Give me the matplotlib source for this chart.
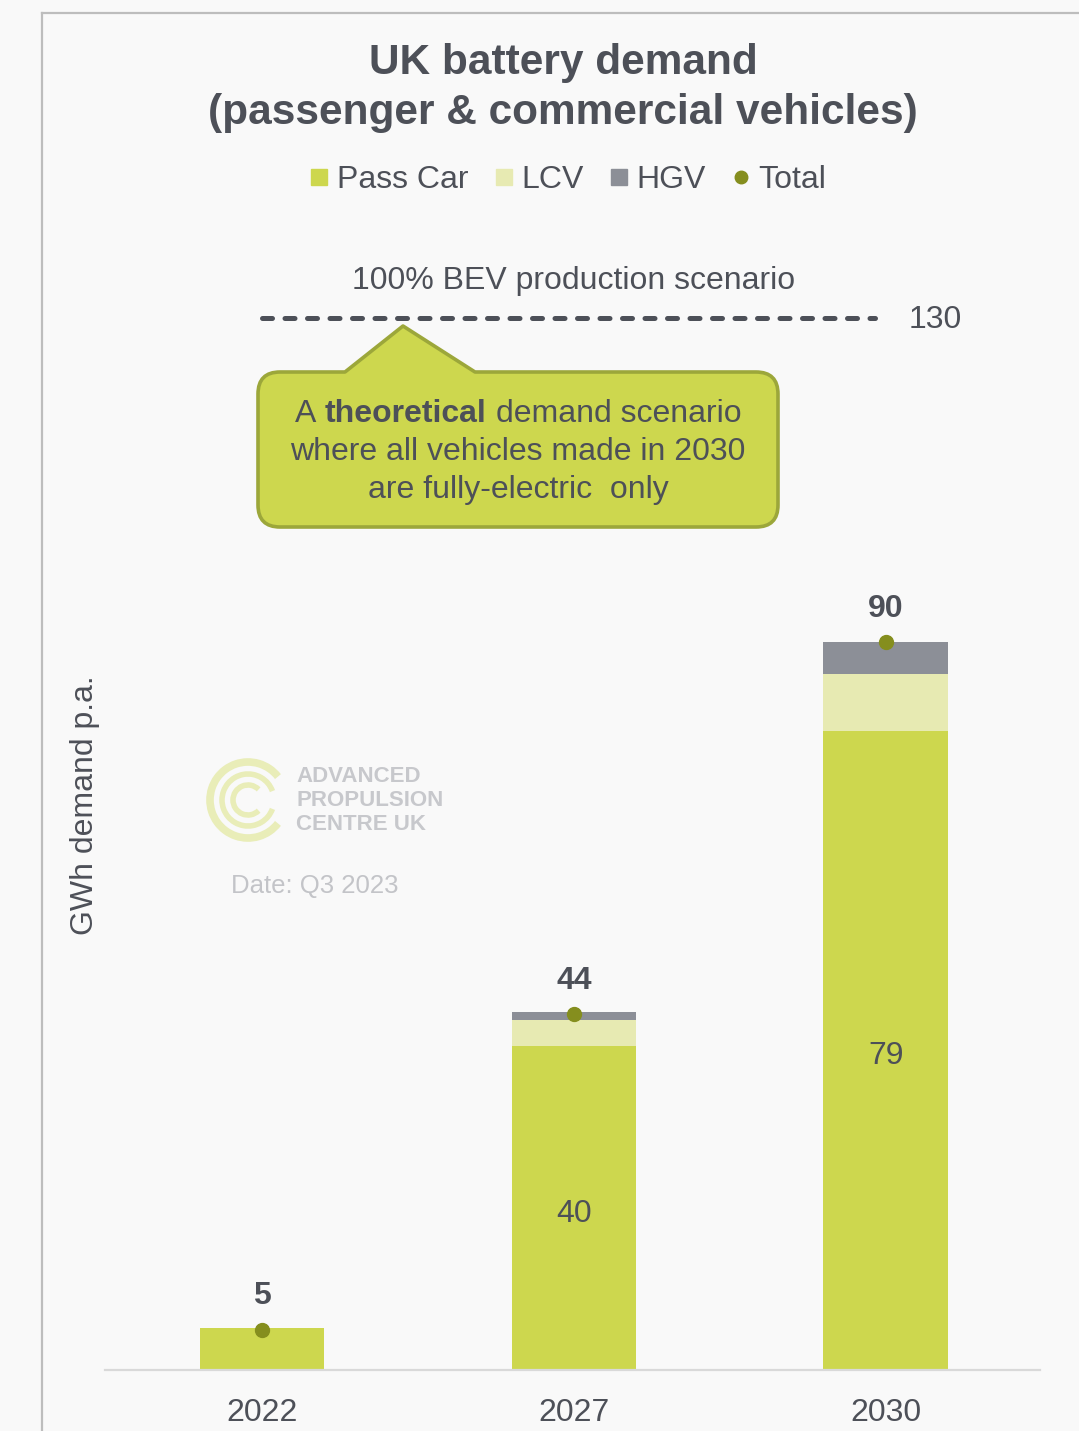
import matplotlib
matplotlib.use("Agg")
import matplotlib.pyplot as plt
from matplotlib.path import Path
from matplotlib.patches import PathPatch, Arc
from matplotlib.lines import Line2D
import numpy as np

# ---------------- data ----------------
years = ["2022", "2027", "2030"]
pass_car = [5.2, 40.0, 79.0]
lcv = [0.0, 3.3, 7.0]
hgv = [0.0, 0.9, 4.0]
totals = [5, 44, 90]
scenario_value = 130
scenario_label = "100% BEV production scenario"

# ---------------- style ----------------
C_PASS = "#CDD74E"
C_LCV = "#E7EAB2"
C_HGV = "#8C8F97"
C_TOT = "#858E1E"
C_TXT = "#4D5058"
C_BG = "#F9F9F9"
FONT = "Liberation Sans"
plt.rcParams["font.family"] = [FONT, "DejaVu Sans"]

W, H = 1079, 1431
fig = plt.figure(figsize=(W / 100, H / 100), dpi=100, facecolor=C_BG)

# overlay (pixel coordinates) for decorations
ov = fig.add_axes([0, 0, 1, 1], zorder=0)
ov.set_xlim(0, W)
ov.set_ylim(H, 0)
ov.axis("off")
ov.patch.set_alpha(0)

# main axes: baseline y=1370px, x 105..1040
px_per_unit = 728 / 90.0
y_base = 1370
ymax = 150
ax_top = y_base - ymax * px_per_unit
ax = fig.add_axes([105 / W, 1 - y_base / H, (1040 - 105) / W, (y_base - ax_top) / H], zorder=2)
ax.patch.set_alpha(0)
x = np.arange(len(years))
bw = 0.40
pc = np.array(pass_car)
lc = np.array(lcv)
hg = np.array(hgv)
ax.bar(x, pc, width=bw, color=C_PASS, zorder=2)
ax.bar(x, lc, width=bw, bottom=pc, color=C_LCV, zorder=2)
ax.bar(x, hg, width=bw, bottom=pc + lc, color=C_HGV, zorder=2)
ax.plot(x, totals, "o", color=C_TOT, markersize=10, zorder=3, linestyle="none")

for xi, v in zip(x, pass_car):
    if v > 10:
        ax.annotate(f"{v:.0f}", (xi, v / 2), xytext=(0, -4), textcoords="offset points",
                    ha="center", va="center", fontsize=23, color=C_TXT, zorder=4)
for xi, t in zip(x, totals):
    ax.annotate(f"{t}", (xi, t), xytext=(0, 24), textcoords="offset points",
                ha="center", va="center", fontsize=23, fontweight="bold", color=C_TXT)

# scenario dashed line
ax.hlines(scenario_value, 0.0, 1.965, colors=C_TXT, linewidth=3.6,
          linestyles=(0, (2.0, 2.5)), capstyle="round", zorder=3)
ax.annotate(f"{scenario_value}", (2.157, scenario_value), xytext=(0, -1), textcoords="offset points",
            ha="center", va="center", fontsize=23, color=C_TXT)
ax.annotate(scenario_label, (1.0, scenario_value), xytext=(0, 27), textcoords="offset points",
            ha="center", va="center", fontsize=23, color=C_TXT)

ax.set_xlim(-0.503, 2.494)
ax.set_ylim(0, ymax)
ax.set_xticks(x)
ax.set_xticklabels(years, fontsize=23, color=C_TXT)
ax.tick_params(axis="x", length=0, pad=20)
ax.set_yticks([])
for s in ["top", "right", "left"]:
    ax.spines[s].set_visible(False)
ax.spines["bottom"].set_color("#D9D9D9")
ax.spines["bottom"].set_linewidth(1.6)

# y label
ov.text(85, 805, "GWh demand p.a.", rotation=90, ha="center", va="center", fontsize=23, color=C_TXT)

# title
ov.text(563, 63, "UK battery demand", ha="center", va="center", fontsize=30.5, fontweight="bold", color=C_TXT)
ov.text(563, 113, "(passenger & commercial vehicles)", ha="center", va="center", fontsize=30.5,
        fontweight="bold", color=C_TXT)

# legend
handles = [
    Line2D([], [], marker="s", color=C_PASS, linestyle="none", markersize=11),
    Line2D([], [], marker="s", color=C_LCV, linestyle="none", markersize=11),
    Line2D([], [], marker="s", color=C_HGV, linestyle="none", markersize=11),
    Line2D([], [], marker="o", color=C_TOT, linestyle="none", markersize=9),
]
fig.legend(handles, ["Pass Car", "LCV", "HGV", "Total"], loc="center",
           bbox_to_anchor=(568 / W, 1 - 180 / H), ncol=4, frameon=False,
           fontsize=23, handlelength=0.6, handletextpad=0.25, columnspacing=0.8,
           labelcolor=C_TXT)

# border
ov.plot([42, W], [13, 13], color="#BDBDBD", lw=1.6)
ov.plot([42, 42], [13, H], color="#BDBDBD", lw=1.6)

# callout
x0, x1, y0, y1, r = 258, 778, 372, 527, 22
verts = [(x0 + r, y0), (345, y0), (403, 326), (475, y0), (x1 - r, y0),
         (x1, y0), (x1, y0 + r), (x1, y1 - r), (x1, y1), (x1 - r, y1),
         (x0 + r, y1), (x0, y1), (x0, y1 - r), (x0, y0 + r), (x0, y0), (x0 + r, y0),
         (x0 + r, y0)]
codes = [Path.MOVETO, Path.LINETO, Path.LINETO, Path.LINETO, Path.LINETO,
         Path.CURVE3, Path.CURVE3, Path.LINETO, Path.CURVE3, Path.CURVE3,
         Path.LINETO, Path.CURVE3, Path.CURVE3, Path.LINETO, Path.CURVE3, Path.CURVE3,
         Path.CLOSEPOLY]
ov.add_patch(PathPatch(Path(verts, codes), facecolor=C_PASS, edgecolor="#9CA73A", lw=2.6,
                       joinstyle="round"))

renderer = fig.canvas.get_renderer()
fs_c = 23
def tw(s, weight="normal"):
    t = ov.text(0, 0, s, fontsize=fs_c, fontweight=weight)
    w = t.get_window_extent(renderer).width
    t.remove()
    return w
sp = tw("a a") - tw("aa")
parts = [("A", "normal"), ("theoretical", "bold"), ("demand scenario", "normal")]
widths = [tw(p, wt) for p, wt in parts]
total_w = sum(widths) + 2 * sp
cx = 518
xs = cx - total_w / 2
for (p, wt), w in zip(parts, widths):
    ov.text(xs, 414, p, ha="left", va="center", fontsize=fs_c, fontweight=wt, color=C_TXT)
    xs += w + sp
ov.text(cx, 452, "where all vehicles made in 2030", ha="center", va="center", fontsize=fs_c, color=C_TXT)
ov.text(cx, 490, "are fully-electric  only", ha="center", va="center", fontsize=fs_c, color=C_TXT)

# watermark
C_WM = "#E9EDB8"
C_WMT = "#C7C8CC"
ov.add_patch(Arc((248, 800), 76, 76, theta1=38, theta2=322, color=C_WM, lw=5.5))
ov.add_patch(Arc((248, 800), 52, 52, theta1=20, theta2=340, color=C_WM, lw=4))
ov.add_patch(Arc((248, 800), 30, 30, theta1=45, theta2=315, color=C_WM, lw=4))
for i, s in enumerate(["ADVANCED", "PROPULSION", "CENTRE UK"]):
    ov.text(296, 777 + i * 23.5, s, ha="left", va="center", fontsize=16, fontweight="bold", color=C_WMT)
ov.text(231, 886, "Date: Q3 2023", ha="left", va="center", fontsize=18.5, color="#C3C4C8")

fig.savefig("out.png", dpi=100, facecolor=C_BG)
